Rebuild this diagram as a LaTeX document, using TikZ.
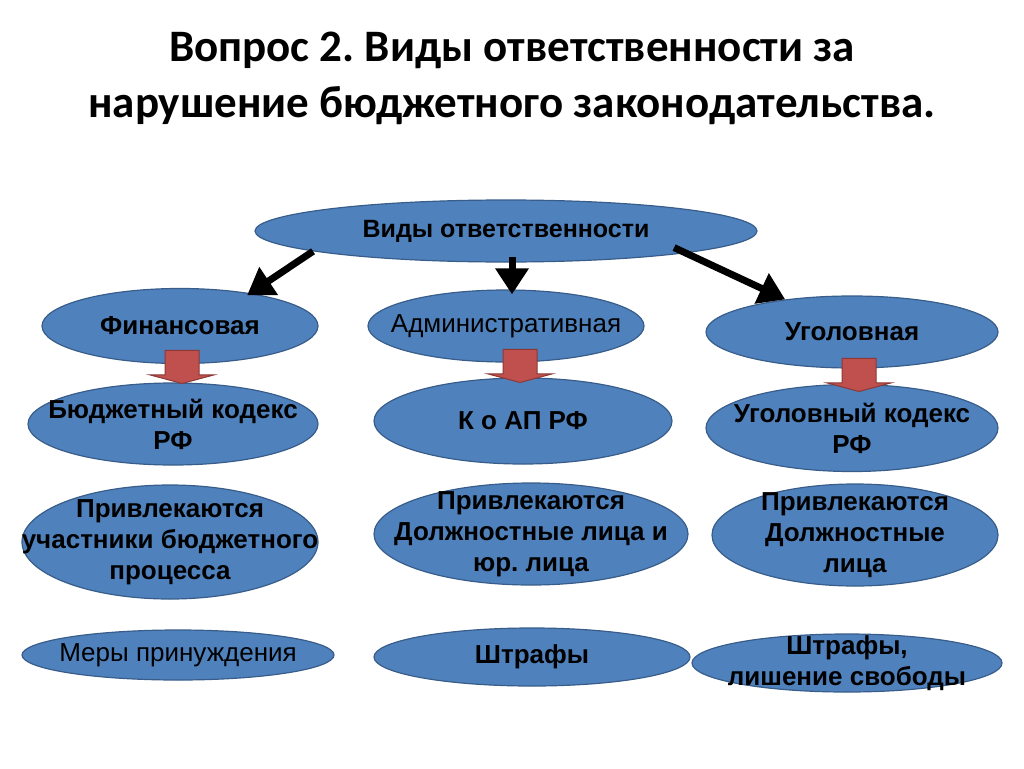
\documentclass[tikz,border=0pt]{standalone}
\usepackage{fontspec}
\setmainfont{Liberation Sans}
\newfontfamily\titlefont{Carlito}
\usetikzlibrary{arrows.meta}
\usetikzlibrary{shapes.geometric}
\usetikzlibrary{shapes.arrows}
\definecolor{ovalblue}{HTML}{4F81BD}
\definecolor{ovalline}{HTML}{385D8A}
\definecolor{arrred}{HTML}{C0504D}
\definecolor{arrline}{HTML}{8C3836}
\frenchspacing

\begin{document}
\begin{tikzpicture}[x=1pt,y=-1pt,->,>={Triangle[length=26pt,width=32pt]},
		font=\fontsize{26}{31}\selectfont\bfseries]
		\tikzstyle{oval}=[ellipse,draw=ovalline,fill=ovalblue,line width=1.2pt,
			inner sep=-60pt,align=center]
		\tikzstyle{downarr}=[single arrow,draw=arrline,fill=arrred,line width=1pt,
			shape border rotate=270,single arrow head extend=15.5pt,
			single arrow tip angle=150,minimum height=33pt,
			inner xsep=16.5pt,inner ysep=0pt,anchor=tip]
		\tikzstyle{pointer}=[line width=7pt]
		\tikzstyle{plain}=[font=\fontsize{26}{31}\selectfont]
		
		\useasboundingbox (0,0) rectangle (1024,768);
		
		\node[font=\titlefont\fontsize{45}{56}\selectfont\bfseries,align=center] (ttl) at (512,78)
			{Вопрос 2. Виды ответственности за\\нарушение бюджетного законодательства.};
		
		\node[oval,font=\fontsize{25}{31}\selectfont\bfseries,minimum width=502pt,minimum height=62pt] (vid) at (506,231) {Виды ответственности};
		
		\node[oval,minimum width=276pt,minimum height=75pt] (fin) at (180,326) {Финансовая};
		\node[oval,plain,minimum width=276pt,minimum height=72pt] (adm) at (506,326) {Административная};
		\node[oval,minimum width=292pt,minimum height=72pt] (ugo) at (852,332) {Уголовная};
		
		\node[oval,minimum width=290pt,minimum height=82pt] (bk) at (173,424) {Бюджетный кодекс\\РФ};
		\node[oval,minimum width=298pt,minimum height=86pt] (koap) at (523,421) {К о АП РФ};
		\node[oval,minimum width=292pt,minimum height=87pt] (uk) at (852,428) {Уголовный кодекс\\РФ};
		
		\node[oval,minimum width=296pt,minimum height=114pt] (who1) at (170,542)
			{Привлекаются\\участники бюджетного\\процесса};
		\node[oval,minimum width=314pt,minimum height=102pt] (who2) at (531,534)
			{Привлекаются\\Должностные лица и\\юр. лица};
		\node[oval,minimum width=286pt,minimum height=102pt] (who3) at (855,535)
			{Привлекаются\\Должностные\\лица};
		
		\node[oval,plain,minimum width=312pt,minimum height=50pt] (mer1) at (178,655) {Меры принуждения};
		\node[oval,minimum width=316pt,minimum height=58pt] (mer2) at (532,657) {Штрафы};
		\node[oval,minimum width=310pt,minimum height=58pt] (mer3) at (847,663) {Штрафы,\\лишение свободы};
		
		\node[downarr] (a1) at (182,384) {};
		\node[downarr] (a2) at (520,383) {};
		\node[downarr] (a3) at (859,392) {};
		
		\path
		(vid.186) edge [pointer,shorten >=-4pt] (fin.25)
		([xshift=6pt]vid.south) edge [pointer,shorten <=-6pt,shorten >=-5pt] ([xshift=6pt]adm.north)
		(vid.353) edge [pointer,shorten <=-13pt] (ugo.154);
	\end{tikzpicture}
\end{document}
